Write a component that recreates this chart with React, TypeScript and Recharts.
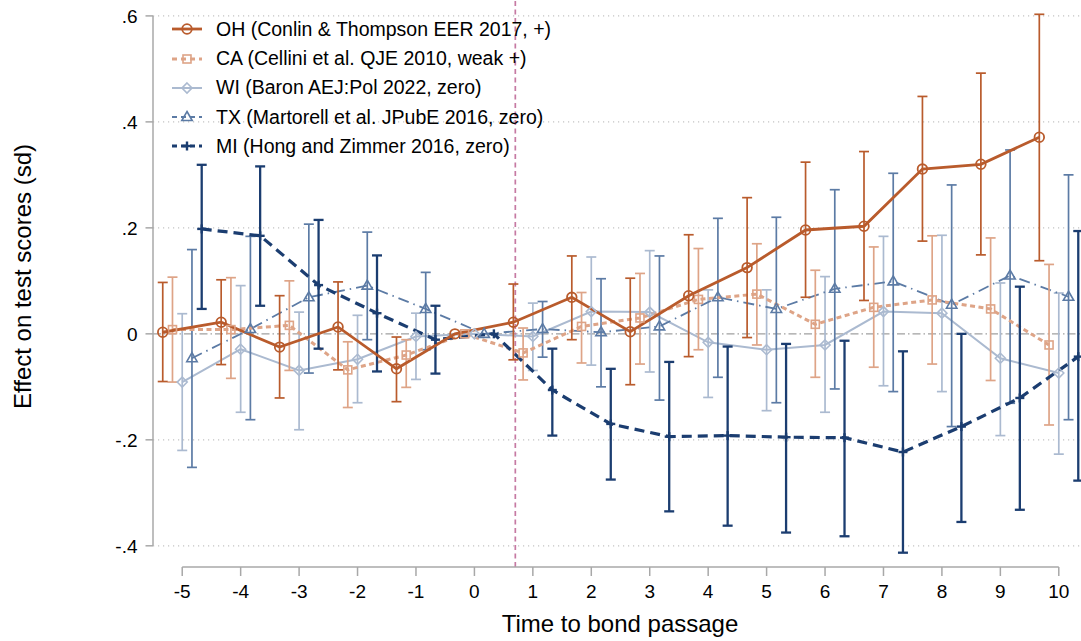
import React from "react";
import { ComposedChart, Line, XAxis, YAxis, ErrorBar, ReferenceLine, Legend } from "recharts";

// event time and axis ticks
const periods = [-5, -4, -3, -2, -1, 0, 1, 2, 3, 4, 5, 6, 7, 8, 9, 10];
const yTicks = [-0.4, -0.2, 0, 0.2, 0.4, 0.6];
const yTickLabels = ["-.4", "-.2", "0", ".2", ".4", ".6"];
const gridValues = [-0.4, -0.2, 0.2, 0.4, 0.6];

// OH (Conlin & Thompson)
const ohEst = [0.003, 0.022, -0.025, 0.013, -0.066, 0, 0.022, 0.069, 0.004, 0.072, 0.125, 0.196, 0.203, 0.311, 0.32, 0.371];
const ohHi = [0.097, 0.102, 0.072, 0.098, -0.006, null, 0.094, 0.147, 0.105, 0.187, 0.257, 0.324, 0.344, 0.448, 0.492, 0.603];
const ohLo = [-0.09, -0.058, -0.121, -0.068, -0.128, null, -0.049, -0.011, -0.096, -0.043, -0.007, 0.069, 0.063, 0.175, 0.149, 0.138];

// CA (Cellini et al.)
const caEst = [0.008, 0.008, 0.016, -0.068, -0.04, 0, -0.036, 0.014, 0.03, 0.065, 0.075, 0.018, 0.05, 0.064, 0.047, -0.021];
const caHi = [0.107, 0.106, 0.1, -0.015, -0.011, null, 0.011, 0.078, 0.114, 0.161, 0.17, 0.12, 0.164, 0.185, 0.181, 0.131];
const caLo = [-0.091, -0.084, -0.069, -0.139, -0.101, null, -0.087, -0.055, -0.057, -0.03, -0.021, -0.082, -0.063, -0.057, -0.088, -0.172];

// WI (Baron)
const wiEst = [-0.091, -0.029, -0.069, -0.048, -0.005, 0, -0.005, 0.042, 0.041, -0.016, -0.03, -0.021, 0.042, 0.039, -0.046, -0.074];
const wiHi = [0.038, 0.091, 0.041, 0.035, 0.039, null, 0.058, 0.145, 0.157, 0.083, 0.083, 0.108, 0.184, 0.186, 0.096, 0.077];
const wiLo = [-0.22, -0.148, -0.181, -0.13, -0.086, null, -0.069, -0.059, -0.072, -0.12, -0.145, -0.148, -0.098, -0.109, -0.192, -0.227];

// TX (Martorell et al.)
const txEst = [-0.046, 0.009, 0.069, 0.091, 0.047, 0, 0.009, 0.003, 0.014, 0.069, 0.047, 0.085, 0.099, 0.055, 0.11, 0.07];
const txHi = [0.159, 0.184, 0.207, 0.192, 0.116, null, 0.061, 0.104, 0.147, 0.218, 0.22, 0.272, 0.303, 0.281, 0.347, 0.3];
const txLo = [-0.252, -0.162, -0.074, -0.011, -0.03, null, -0.044, -0.1, -0.125, -0.082, -0.13, -0.104, -0.109, -0.175, -0.131, -0.162];

// MI (Hong and Zimmer)
const miEst = [0.198, 0.185, 0.092, 0.039, -0.011, 0, -0.106, -0.17, -0.194, -0.192, -0.195, -0.196, -0.223, -0.175, -0.121, -0.043];
const miHi = [0.319, 0.316, 0.215, 0.148, 0.053, null, -0.028, -0.066, -0.053, -0.024, -0.019, -0.013, -0.033, 0.0, 0.089, 0.194];
const miLo = [0.047, 0.053, -0.028, -0.071, -0.075, null, -0.192, -0.275, -0.335, -0.362, -0.375, -0.382, -0.413, -0.355, -0.332, -0.277];

const FONT = "'Liberation Sans', Arial, Helvetica, sans-serif";
const AXIS = "#a8a8a8";

const series = [
  { key: "oh", name: "OH (Conlin & Thompson EER 2017, +)", est: ohEst, lo: ohLo, hi: ohHi, offset: -1 / 3, color: "#b95b2c", width: 2.8, dash: undefined, shape: "circle", barWidth: 1.7 },
  { key: "ca", name: "CA (Cellini et al. QJE 2010, weak +)", est: caEst, lo: caLo, hi: caHi, offset: -1 / 6, color: "#dea487", width: 3, dash: "5 3.5", shape: "square", barWidth: 1.7 },
  { key: "wi", name: "WI (Baron AEJ:Pol 2022, zero)", est: wiEst, lo: wiLo, hi: wiHi, offset: 0, color: "#abbad0", width: 2, dash: undefined, shape: "diamond", barWidth: 1.7 },
  { key: "tx", name: "TX (Martorell et al. JPubE 2016, zero)", est: txEst, lo: txLo, hi: txHi, offset: 1 / 6, color: "#5c7ba5", width: 1.8, dash: "11 5 1.5 5", shape: "triangle", barWidth: 1.7 },
  { key: "mi", name: "MI (Hong and Zimmer 2016, zero)", est: miEst, lo: miLo, hi: miHi, offset: 1 / 3, color: "#1b3d70", width: 3.2, dash: "10 6", shape: "plus", barWidth: 2.3 },
];

const drawOrder = ["wi", "tx", "ca", "mi", "oh"];

const buildData = (s: any) =>
  periods.map((t, i) => ({
    x: t + s.offset,
    y: s.est[i],
    err: s.lo[i] == null ? undefined : [s.est[i] - s.lo[i], s.hi[i] - s.est[i]],
  }));

const Marker = ({ shape, cx, cy, color }: any) => {
  if (cx == null || cy == null) return null;
  if (shape === "circle") return <circle cx={cx} cy={cy} r={4.8} fill="none" stroke={color} strokeWidth={1.8} />;
  if (shape === "square") return <rect x={cx - 4} y={cy - 4} width={8} height={8} fill="none" stroke={color} strokeWidth={1.6} />;
  if (shape === "diamond")
    return <path d={`M${cx},${cy - 5} L${cx + 5},${cy} L${cx},${cy + 5} L${cx - 5},${cy} Z`} fill="none" stroke={color} strokeWidth={1.6} />;
  if (shape === "triangle")
    return <path d={`M${cx},${cy - 5.5} L${cx + 5.2},${cy + 3.5} L${cx - 5.2},${cy + 3.5} Z`} fill="none" stroke={color} strokeWidth={1.6} />;
  return (
    <g stroke={color} strokeWidth={2.4}>
      <line x1={cx - 4.5} y1={cy} x2={cx + 4.5} y2={cy} />
      <line x1={cx} y1={cy - 4.5} x2={cx} y2={cy + 4.5} />
    </g>
  );
};

const LegendContent = () => (
  <div style={{ fontFamily: FONT, fontSize: 19.5, color: "#000" }}>
    {series.map((s) => (
      <div key={s.key} style={{ display: "flex", alignItems: "center", height: 29.3, whiteSpace: "nowrap" }}>
        <svg width={46} height={20} style={{ flex: "none" }}>
          <line x1={2} y1={10} x2={32} y2={10} stroke={s.color} strokeWidth={s.width} strokeDasharray={s.dash ? "5 4" : undefined} />
          <Marker shape={s.shape} cx={17} cy={10} color={s.color} />
        </svg>
        <span>{s.name}</span>
      </div>
    ))}
  </div>
);

const YTitle = ({ viewBox }: any) => {
  const x = viewBox.x + 22.5;
  const y = viewBox.y + 276.5;
  return (
    <text x={x} y={y} transform={`rotate(-90 ${x} ${y})`} textAnchor="middle" dominantBaseline="central" fontFamily={FONT} fontSize={24} fill="#000">
      Effect on test scores (sd)
    </text>
  );
};

const XTitle = ({ viewBox }: any) => (
  <text x={viewBox.x + viewBox.width / 2 + 3} y={viewBox.y + 65} textAnchor="middle" fontFamily={FONT} fontSize={24} fill="#000">
    Time to bond passage
  </text>
);

export default function App() {
  const tickStyle = { fontFamily: FONT, fontSize: 19, fill: "#000" };
  return (
    <div style={{ width: 1081, height: 641, background: "#fff" }}>
      <style>{"body{margin:0}"}</style>
      <ComposedChart width={1081} height={641} margin={{ top: 0, right: 0, bottom: 0, left: 0 }}>
        <XAxis
          type="number"
          dataKey="x"
          domain={[-5.5, 10.38]}
          allowDataOverflow
          ticks={periods}
          interval={0}
          height={74}
          axisLine={false}
          tickLine={{ stroke: AXIS, strokeWidth: 1.5 }}
          tickSize={9}
          tickMargin={9}
          tick={tickStyle}
          label={{ content: XTitle }}
        />
        <YAxis
          type="number"
          domain={[-0.44, 0.63]}
          allowDataOverflow
          ticks={yTicks}
          interval={0}
          width={153}
          axisLine={false}
          tickLine={{ stroke: AXIS, strokeWidth: 1.5 }}
          tickSize={7.5}
          tickMargin={8}
          tick={tickStyle}
          tickFormatter={(v: number) => yTickLabels[yTicks.indexOf(v)] ?? String(v)}
          label={{ content: YTitle }}
        />
        {gridValues.map((v) => (
          <ReferenceLine key={`g${v}`} y={v} stroke="#c4c4c4" strokeWidth={1.2} strokeDasharray="1.2 3.8" />
        ))}
        <ReferenceLine y={0} stroke="#a0a0a0" strokeWidth={1.2} strokeDasharray="8 3 1.5 3" />
        <ReferenceLine x={0.7} stroke="#c67aa3" strokeWidth={1.7} strokeDasharray="5 3.5" />
        <ReferenceLine segment={[{ x: -5.5, y: -0.4 }, { x: -5.5, y: 0.6 }]} stroke={AXIS} strokeWidth={1.5} ifOverflow="visible" />
        <ReferenceLine segment={[{ x: -5, y: -0.44 }, { x: 10, y: -0.44 }]} stroke={AXIS} strokeWidth={1.5} ifOverflow="visible" />
        {drawOrder.map((k) => {
          const s = series.find((d) => d.key === k)!;
          return (
            <Line
              key={s.key}
              data={buildData(s)}
              dataKey="y"
              name={s.name}
              type="linear"
              stroke={s.color}
              strokeWidth={s.width}
              strokeDasharray={s.dash}
              isAnimationActive={false}
              activeDot={false}
              dot={(p: any) => <Marker key={`${s.key}-${p.index}`} shape={s.shape} cx={p.cx} cy={p.cy} color={s.color} />}
            >
              <ErrorBar dataKey="err" direction="y" width={5} stroke={s.color} strokeWidth={s.barWidth} isAnimationActive={false} />
            </Line>
          );
        })}
        <Legend
          layout="vertical"
          verticalAlign="middle"
          align="center"
          content={LegendContent}
          wrapperStyle={{ top: 14.6, left: 170, width: 460 }}
        />
      </ComposedChart>
    </div>
  );
}
